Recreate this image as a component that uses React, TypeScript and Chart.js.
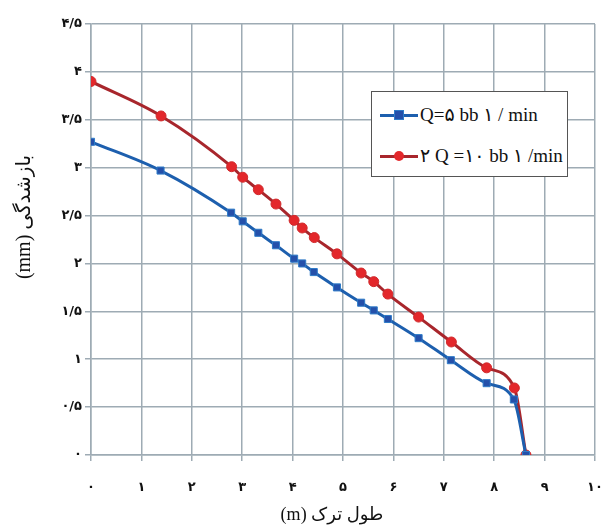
import React, { useEffect, useRef } from "react";
import { Chart, registerables } from "chart.js";

Chart.register(...registerables);

const FA_DIGITS = "۰۱۲۳۴۵۶۷۸۹";
const toFa = (s: string) => s.replace(/[0-9]/g, (d) => FA_DIGITS[+d]);

const xTicks = [0, 1, 2, 3, 4, 5, 6, 7, 8, 9, 10];
const yTicks = [0, 0.5, 1, 1.5, 2, 2.5, 3, 3.5, 4, 4.5];

const blueX = [0, 1.38, 2.78, 3.01, 3.32, 3.67, 4.03, 4.19, 4.42, 4.88, 5.36, 5.61, 5.89, 6.5, 7.14, 7.85, 8.39, 8.63];
const blueY = [3.27, 2.97, 2.53, 2.44, 2.32, 2.19, 2.05, 2.0, 1.91, 1.75, 1.59, 1.51, 1.42, 1.22, 0.99, 0.75, 0.58, 0.0];

const redX = [0, 1.39, 2.79, 3.01, 3.32, 3.67, 4.03, 4.19, 4.43, 4.88, 5.36, 5.61, 5.89, 6.5, 7.15, 7.85, 8.4, 8.63];
const redY = [3.9, 3.54, 3.01, 2.9, 2.77, 2.62, 2.45, 2.37, 2.27, 2.1, 1.9, 1.81, 1.68, 1.44, 1.18, 0.91, 0.7, 0.0];

const blueLabel = "Q=۵ bb ۱ / min";
const redLabel = "۲ Q =۱۰ bb ۱ /min";
const xTitle = "طول ترک (m)";
const yTitle = "بازشدگی (mm)";

const GRID = "#9eabb4";
const TITLE_FONT = "'Liberation Serif', 'DejaVu Sans', serif";

export default function App() {
  const ref = useRef<HTMLCanvasElement | null>(null);
  useEffect(() => {
    if (!ref.current) return;
    const chart = new Chart(ref.current, {
      type: "line",
      data: {
        datasets: [
          {
            label: blueLabel,
            data: blueX.map((x, i) => ({ x, y: blueY[i] })),
            borderColor: "#1d5fae",
            backgroundColor: "#2450aa",
            pointBorderColor: "#2f7cc8",
            pointBackgroundColor: "#2450aa",
            borderWidth: 3,
            pointStyle: "rect",
            pointRadius: 5,
            pointBorderWidth: 1,
            cubicInterpolationMode: "monotone",
          },
          {
            label: redLabel,
            data: redX.map((x, i) => ({ x, y: redY[i] })),
            borderColor: "#a8262c",
            backgroundColor: "#e0262a",
            pointBorderColor: "#d02a2c",
            pointBackgroundColor: "#e3272b",
            borderWidth: 3,
            pointStyle: "circle",
            pointRadius: 5,
            pointBorderWidth: 1,
            cubicInterpolationMode: "monotone",
          },
        ],
      },
      options: {
        animation: false,
        responsive: false,
        maintainAspectRatio: false,
        layout: { padding: { left: 0, right: 5, top: 24, bottom: 0 } },
        plugins: {
          legend: { display: false },
          tooltip: { enabled: false },
        },
        scales: {
          x: {
            type: "linear",
            min: 0,
            max: 10,
            afterBuildTicks: (s: any) => {
              s.ticks = xTicks.map((v) => ({ value: v }));
            },
            afterFit: (s: any) => {
              s.height = 70;
              s.paddingRight = 0;
              s.paddingLeft = 0;
            },
            grid: { color: GRID, lineWidth: 1.5, tickLength: 6, drawTicks: true },
            border: { color: GRID, width: 1.5 },
            ticks: {
              padding: 19,
              color: "#111",
              font: { family: "DejaVu Sans", size: 13, weight: "bold" },
              callback: (v: any) => toFa(String(v)),
            },
            title: { display: false },
          },
          y: {
            type: "linear",
            min: 0,
            max: 4.5,
            afterBuildTicks: (s: any) => {
              s.ticks = yTicks.map((v) => ({ value: v }));
            },
            afterFit: (s: any) => {
              s.width = 91;
            },
            grid: { color: GRID, lineWidth: 1.5, tickLength: 6 },
            border: { color: GRID, width: 1.5 },
            ticks: {
              padding: 3,
              color: "#111",
              font: { family: "DejaVu Sans", size: 13, weight: "bold" },
              callback: (v: any) => toFa(String(v).replace(".", "/")),
            },
            title: { display: false },
          },
        },
      },
    });
    return () => chart.destroy();
  }, []);

  const legendRow = (color: string, marker: React.ReactNode, text: string) => (
    <div style={{ display: "flex", alignItems: "center", height: 28 }}>
      <div style={{ position: "relative", width: 38, height: 14, marginRight: 2 }}>
        <div style={{ position: "absolute", left: 0, right: 0, top: 6, height: 3, background: color }} />
        {marker}
      </div>
      <span style={{ fontFamily: TITLE_FONT, fontSize: 19, color: "#111", whiteSpace: "nowrap" }}>{text}</span>
    </div>
  );

  return (
    <div style={{ position: "fixed", left: 0, top: 0, width: 601, height: 525, background: "#fff" }}>
      <canvas ref={ref} width={601} height={525} style={{ display: "block" }} />
      <div
        dir="rtl"
        style={{
          position: "absolute",
          left: 232,
          top: 503,
          width: 200,
          height: 22,
          lineHeight: "22px",
          textAlign: "center",
          fontFamily: TITLE_FONT,
          fontSize: 18,
          color: "#111",
          whiteSpace: "nowrap",
        }}
      >
        {xTitle}
      </div>
      <div
        dir="rtl"
        style={{
          position: "absolute",
          left: 23 - 100,
          top: 217 - 12,
          width: 200,
          height: 24,
          lineHeight: "24px",
          textAlign: "center",
          fontFamily: TITLE_FONT,
          fontSize: 20,
          color: "#111",
          whiteSpace: "nowrap",
          transform: "rotate(-90deg)",
          transformOrigin: "50% 50%",
        }}
      >
        {yTitle}
      </div>
      <div
        style={{
          position: "absolute",
          left: 371,
          top: 91,
          width: 197,
          height: 86,
          border: "1.5px solid #555",
          background: "#fff",
          boxSizing: "border-box",
          padding: "2px 0 0 8px",
          display: "flex",
          flexDirection: "column",
          justifyContent: "space-around",
        }}
      >
        {legendRow(
          "#1d5fae",
          <div style={{ position: "absolute", left: 14, top: 2, width: 10, height: 10, background: "#2450aa", border: "1px solid #2f7cc8", boxSizing: "border-box" }} />,
          blueLabel
        )}
        {legendRow(
          "#a8262c",
          <div style={{ position: "absolute", left: 14, top: 2, width: 10, height: 10, borderRadius: 5, background: "#e3272b" }} />,
          redLabel
        )}
      </div>
    </div>
  );
}
